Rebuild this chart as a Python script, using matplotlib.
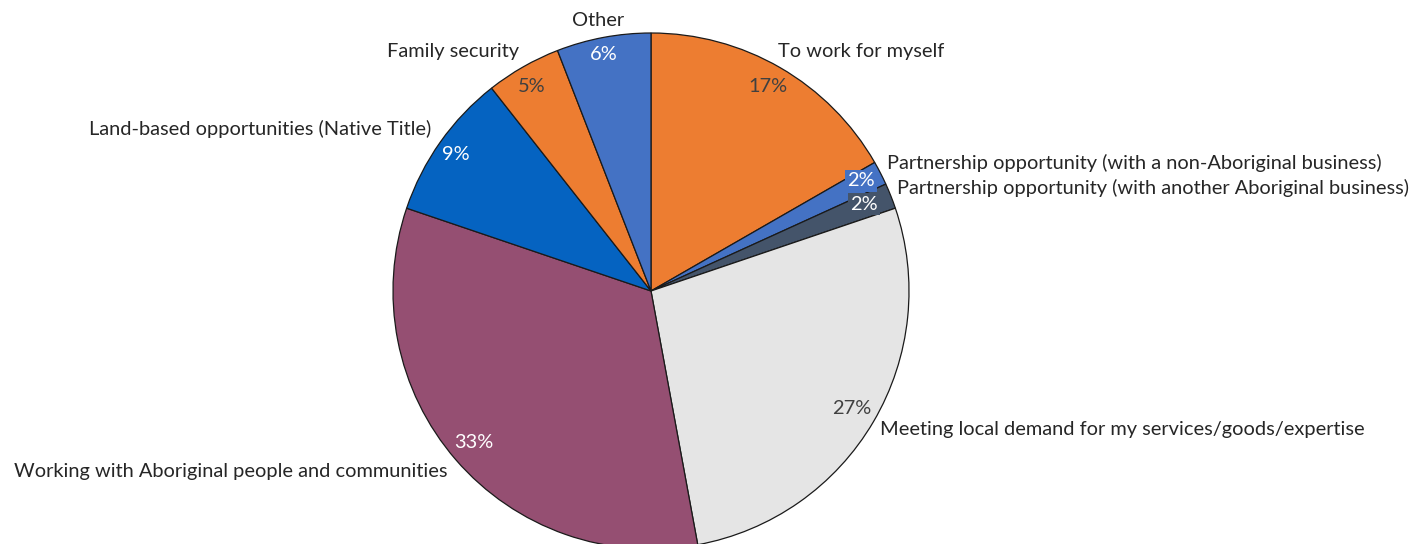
import matplotlib
matplotlib.use("Agg")
import matplotlib.pyplot as plt

# Motivations for starting a business (share of respondents, %)
categories = [
    "To work for myself",
    "Partnership opportunity (with a non-Aboriginal business)",
    "Partnership opportunity (with another Aboriginal business)",
    "Meeting local demand for my services/goods/expertise",
    "Working with Aboriginal people and communities",
    "Land-based opportunities (Native Title)",
    "Family security",
    "Other",
]
values = [16.7, 1.5, 1.6, 27.3, 33.1, 9.2, 4.7, 5.9]

colors = ["#ED7D31", "#4472C4", "#44546A", "#E5E5E5",
          "#954F72", "#0563C1", "#ED7D31", "#4472C4"]
pct_colors = ["#404040", "white", "white", "#404040",
              "white", "white", "#404040", "white"]
pct_boxed = [False, True, True, False, False, False, False, False]

# label placement in pixel space (x from left, y from top) and alignment
cat_pos = [(778, 51, "left"), (887, 163, "left"), (897, 188, "left"),
           (880, 429, "left"), (447, 472, "right"), (431, 129, "right"),
           (453, 51, "center"), (598, 21, "center")]
pct_pos = [(768, 87), (861, 181), (864, 204), (852, 408),
           (474, 443), (456, 154), (532, 86), (604, 55)]

W, H = 1421, 544
fig = plt.figure(figsize=(W / 100, H / 100), dpi=100)
ax = fig.add_axes([0, 0, 1, 1])

cx, cy, r = 651, H - 291, 258
ax.pie(values, colors=colors, startangle=90, counterclock=False,
       center=(cx, cy), radius=r, frame=True,
       wedgeprops=dict(edgecolor="#1a1a1a", linewidth=0.9))
ax.set_xlim(0, W)
ax.set_ylim(0, H)
ax.set_aspect("equal")
ax.axis("off")

font = "Lato"
fs = 14.4
for (x, y, ha), name in zip(cat_pos, categories):
    ax.text(x, H - y, name, ha=ha, va="center", fontsize=fs,
            color="#262626", family=font)

for (x, y), v, c, boxed, fc in zip(pct_pos, values, pct_colors, pct_boxed, colors):
    kw = {}
    if boxed:
        kw["bbox"] = dict(boxstyle="square,pad=0.12", fc=fc, ec="none")
    ax.text(x, H - y, f"{round(v):d}%", ha="center", va="center", fontsize=fs,
            color=c, family=font, **kw)

fig.savefig("out.png", dpi=100)
